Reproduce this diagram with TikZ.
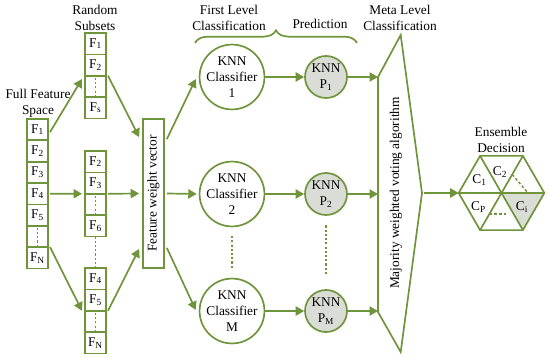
\documentclass[tikz,border=0pt]{standalone}
\usepackage{fontspec}
\setmainfont{Liberation Serif}
\usepackage{tikz}
\usetikzlibrary{shapes.geometric,arrows.meta,decorations.pathreplacing,calc}

\definecolor{leaf}{RGB}{112,148,60}
\definecolor{predgray}{RGB}{218,221,213}

\begin{document}
\begin{tikzpicture}[
  x=0.025cm, y=-0.025cm,
  every node/.style={font=\fontsize{9.5}{11.2}\selectfont},
  >={Triangle[length=6pt,width=6.5pt]},
  cell/.style={draw=leaf, line width=1.2pt, minimum width=0.525cm,
               minimum height=0.535cm, inner sep=0pt, outer sep=0pt},
  bar/.style={draw=leaf, line width=1.2pt, minimum width=0.525cm,
              minimum height=3.725cm, inner sep=0pt},
  knn/.style={circle, draw=leaf, line width=1.2pt, minimum size=1.6cm,
              inner sep=0pt, align=center},
  pred/.style={circle, draw=leaf, fill=predgray, line width=1.2pt,
               minimum size=1.05cm, inner sep=0pt, align=center},
  hexa/.style={regular polygon, regular polygon sides=6, minimum size=2.125cm,
               inner sep=0pt},
  hexline/.style={leaf, line width=1.2pt},
  link/.style={->, leaf, line width=1.2pt},
  gap/.style={leaf, line width=1pt, dash pattern=on 1.5pt off 1.5pt}
]
% 1 unit = 1px of the 550x359 layout, y grows downward
\useasboundingbox (0,0) rectangle (550,359);

%% --- Titles ------------------------------------------------
\node[align=center] (tfull) at (38,103)  {Full Feature\\Space};
\node[align=center] (tsub)  at (95,18)   {Random\\Subsets};
\node[align=center] (tfirst) at (229,18) {First Level\\Classification};
\node (tpred) at (320,24) {Prediction};
\node[align=center] (tmeta) at (400,18)  {Meta Level\\Classification};
\node[align=center] (tens)  at (501,140) {Ensemble\\Decision};

%% --- Full feature space column -----------------------------
\foreach \lbl [count=\i] in {F\textsubscript{1},F\textsubscript{2},F\textsubscript{3},
                             F\textsubscript{4},F\textsubscript{5},{},F\textsubscript{N}}
  \node[cell] (ff\i) at (37.5, {108.3+21.35*\i}) {\lbl};

%% --- Random subsets (three columns) ------------------------
\foreach \lbl [count=\i] in {F\textsubscript{1},F\textsubscript{2},{},F\textsubscript{s}}
  \node[cell] (sa\i) at (95.5, {22.3+21.4*\i}) {\lbl};
\foreach \lbl [count=\i] in {F\textsubscript{2},F\textsubscript{3},{},F\textsubscript{6}}
  \node[cell] (sb\i) at (95.5, {140.3+21.4*\i}) {\lbl};
\foreach \lbl [count=\i] in {F\textsubscript{4},F\textsubscript{5},{},F\textsubscript{N}}
  \node[cell] (sc\i) at (95.5, {257.3+21.4*\i}) {\lbl};

% dotted fillers
\foreach \c in {ff6,sa3,sb3,sc3}
  \draw[gap, shorten <=1.5pt, shorten >=1.5pt] (\c.north) -- (\c.south);
\draw[gap] (sb4.south) -- (sc1.north);

%% --- Feature weight vector ---------------------------------
\node[bar, label={[rotate=90]center:Feature weight vector}] (fwv) at (153.5,193.5) {};

%% --- First level: classifiers and predictions --------------
\foreach \n/\y in {1/77,2/194,M/311}{
  \node[knn]  (cl\n) at (232,\y) {KNN\\Classifier\\\n};
  \node[pred] (p\n)  at (326,\y) {KNN\\P\textsubscript{\n}};
  \draw[link] (cl\n) -- (p\n);
}
\draw[gap, shorten <=0.22cm, shorten >=0.22cm] (cl2.south) -- (clM.north);
\draw[gap, shorten <=0.24cm, shorten >=0.35cm] (p2.south) -- (pM.north);

% brace over first level
\draw[leaf, line width=1.2pt, decorate, decoration={brace, amplitude=9pt}]
     (195,43) -- (357,43);

%% --- Meta level voting shape -------------------------------
\coordinate (mt1)  at (378,77);
\coordinate (mt2)  at (378,194);
\coordinate (mt3)  at (378,311);
\coordinate (mtip) at (422,193);
\draw[leaf, line width=1.2pt] (mt1) -- (400.7,35) -- (mtip) -- (400.7,352)
     -- (378,312) -- cycle;
\node[rotate=90] (vote) at (396,193) {Majority weighted voting algorithm};

%% --- Ensemble decision hexagon -----------------------------
% corners: 1 top right, 2 top left, 3 left, 4 bottom left, 5 bottom right, 6 right
\node[hexa] (hex) at (501.5,193) {};
\fill[predgray] (hex.center) -- (hex.corner 5) -- (hex.corner 6) -- cycle;
\draw[hexline] (hex.corner 1) -- (hex.corner 2) -- (hex.corner 3) -- (hex.corner 4)
     -- (hex.corner 5) -- (hex.corner 6) -- cycle;
\foreach \k in {1,...,6}
  \draw[hexline] (hex.center) -- (hex.corner \k);
\draw[gap, dash pattern=on 2pt off 1.5pt]
     ($(hex.center)!0.5!(hex.corner 1)$) -- ($(hex.center)!0.62!(hex.corner 6)$);
\draw[gap, dash pattern=on 2pt off 1.5pt]
     ($(hex.center)!0.57!(hex.corner 4)$) -- +(17,0);
\node (c1) at ($(hex.center)+(-22,-13)$) {C\textsubscript{1}};
\node (c2) at ($(hex.center)+(-1.5,-21)$) {C\textsubscript{2}};
\node (cp) at ($(hex.center)+(-23,14)$)  {C\textsubscript{P}};
\node (ci) at ($(hex.center)+(20.5,14)$)  {C\textsubscript{i}};

%% --- Connectors --------------------------------------------
% full space -> subsets
\draw[link] ($(ff1.east)+(2,2.5)$)       -- ($(sa3.west)+(-3,-7.5)$);
\draw[link] ($(ff4.east)+(2,0)$)         -- ($(sb2.south west)+(-3,0)$);
\draw[link] ($(ff7.north east)+(2,0)$)   -- ($(sc2.south west)+(-3,0)$);
% subsets -> weight vector
\draw[link] ($(sa2.south east)+(2,0)$)   -- ($(fwv.north west)+(-3,19)$);
\draw[link] ($(sb2.south east)+(2,0)$)   -- ($(fwv.west)+(-3,0)$);
\draw[link] ($(sc2.south east)+(2,0)$)   -- ($(fwv.south west)+(-3,-20)$);
% weight vector -> classifiers
\draw[link] ($(fwv.north east)+(2,21)$)  -- ($(cl1.west)+(-3,2)$);
\draw[link] ($(fwv.east)+(2,0)$)         -- ($(cl2.west)+(-2,0)$);
\draw[link] ($(fwv.south east)+(2,-21)$) -- ($(clM.west)+(-3,-1)$);
% predictions -> meta level -> decision
\draw[link] (p1) -- (mt1);
\draw[link] (p2) -- (mt2);
\draw[link] (pM) -- (mt3);
\draw[link] ($(mtip)+(2,0)$) -- (hex.corner 3);

\end{tikzpicture}
\end{document}
